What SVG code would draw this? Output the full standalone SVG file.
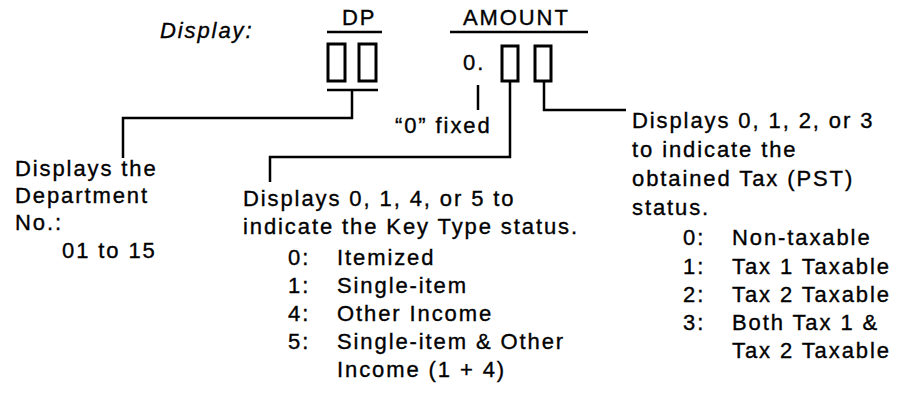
<svg xmlns="http://www.w3.org/2000/svg" width="910" height="403" viewBox="0 0 910 403">
<style>
text{font-family:"Liberation Sans",Arial,sans-serif;font-size:22px;letter-spacing:1.9px;fill:#000;stroke:#000;stroke-width:0.35}
.it{font-style:italic}
.ln{stroke:#000;stroke-width:2.5;fill:none}
.bx{stroke:#000;stroke-width:3;fill:#fff}
</style>
<rect width="910" height="403" fill="#fff"/>
<g id="title"><text class="it" x="160" y="38">Display:</text></g>
<g id="dp">
<text x="342" y="25">DP</text>
<line class="ln" x1="327" y1="32" x2="382" y2="32"/>
<rect class="bx" x="328" y="44" width="17" height="37"/>
<rect class="bx" x="359" y="44" width="17" height="37"/>
</g>
<g id="amount">
<text x="463" y="25">AMOUNT</text>
<line class="ln" x1="450" y1="32" x2="588" y2="32"/>
<text x="463" y="70">0.</text>
<rect class="bx" x="502" y="46" width="16" height="35"/>
<rect class="bx" x="535" y="46" width="16" height="35"/>
</g>
<g id="connectors">
<line class="ln" x1="327" y1="90" x2="378" y2="90"/>
<polyline class="ln" points="352,90 352,118 123,118 123,158"/>
<line class="ln" x1="478" y1="85" x2="478" y2="110"/>
<polyline class="ln" points="510,81 510,157 270,157 270,182"/>
<polyline class="ln" points="544,81 544,110 626,110"/>
</g>
<g id="fixed"><text x="395" y="133">“0” fixed</text></g>
<g id="dept">
<text x="15" y="176">Displays the</text>
<text x="15" y="203">Department</text>
<text x="15" y="230">No.:</text>
<text x="62" y="258">01 to 15</text>
</g>
<g id="keytype">
<text x="243" y="206">Displays 0, 1, 4, or 5 to</text>
<text x="243" y="234">indicate the Key Type status.</text>
<text x="288" y="265">0:</text><text x="337" y="265">Itemized</text>
<text x="288" y="293">1:</text><text x="337" y="293">Single-item</text>
<text x="288" y="321">4:</text><text x="337" y="321">Other Income</text>
<text x="288" y="349">5:</text><text x="337" y="349">Single-item &amp; Other</text>
<text x="337" y="377">Income (1 + 4)</text>
</g>
<g id="tax">
<text x="632" y="128">Displays 0, 1, 2, or 3</text>
<text x="632" y="157">to indicate the</text>
<text x="632" y="186">obtained Tax (PST)</text>
<text x="632" y="215">status.</text>
<text x="683" y="245">0:</text><text x="732" y="245">Non-taxable</text>
<text x="683" y="274">1:</text><text x="732" y="274">Tax 1 Taxable</text>
<text x="683" y="302">2:</text><text x="732" y="302">Tax 2 Taxable</text>
<text x="683" y="330">3:</text><text x="732" y="330">Both Tax 1 &amp;</text>
<text x="732" y="358">Tax 2 Taxable</text>
</g>
</svg>
